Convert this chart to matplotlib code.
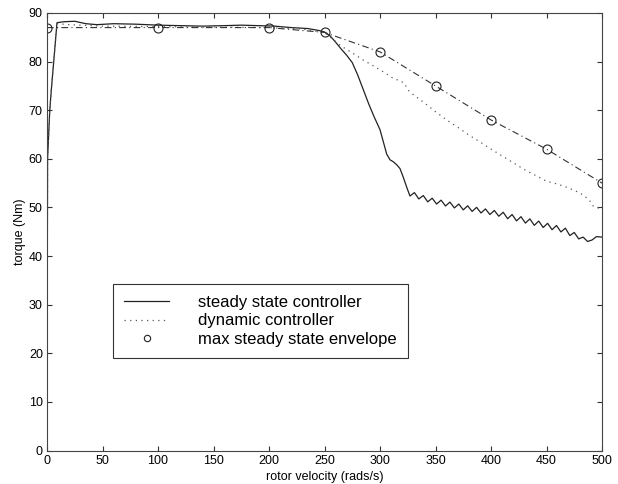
import matplotlib
matplotlib.use("Agg")
import matplotlib.pyplot as plt

plt.rcParams['font.family'] = ['Liberation Sans', 'DejaVu Sans']

# steady state controller (solid)
ss_x = [0, 0.5, 2.5, 4, 9, 15, 25, 35, 45, 60, 80, 100, 120, 140, 160, 175, 190, 205,
        220, 235, 245, 250, 255, 260, 265, 270, 275, 280, 285, 290, 295, 300, 303, 306,
        309, 312, 315, 318, 321, 324,
        327, 331, 335, 339, 343, 347, 351, 355, 359, 363, 367, 371, 375, 379, 383, 387,
        391, 395, 399, 403, 407, 411, 415, 419, 423, 427, 431, 435, 439, 443, 447, 451,
        455, 459, 463, 467, 471, 475, 479, 483, 487, 491, 495, 500]
ss_y = [8, 60, 70, 74.5, 88, 88.2, 88.3, 87.8, 87.6, 87.8, 87.7, 87.5, 87.4, 87.3, 87.4,
        87.5, 87.4, 87.3, 87.0, 86.8, 86.4, 86.1, 85.3, 84.0, 82.6, 81.3, 79.8, 77.2, 74.2,
        71.2, 68.5, 66.0, 63.5, 61.0, 59.8, 59.4, 58.8, 58.0, 56.2, 54.2,
        52.35, 53.05, 51.75, 52.45, 51.15, 51.9, 50.7, 51.5, 50.3, 51.1, 49.9, 50.7, 49.5,
        50.34, 49.18, 50.02, 48.86, 49.7, 48.54, 49.38, 48.19, 49.01, 47.68, 48.55, 47.23,
        48.1, 46.78, 47.65, 46.32, 47.2, 45.87, 46.74, 45.42, 46.29, 44.96, 45.74, 44.22,
        44.85, 43.53, 43.9, 43.0, 43.3, 44.0, 43.9]

# dynamic controller (dotted)
dyn_x = [0, 0.5, 2.5, 4, 9, 20, 50, 100, 150, 200, 230, 250, 258, 265, 275, 285, 295, 300,
         305, 310, 318, 322, 325, 330, 340, 350, 360, 370, 380, 390, 400, 410, 420, 430,
         440, 450, 460, 470, 480, 488, 492, 500]
dyn_y = [8, 60, 70, 74.5, 87.8, 87.6, 87.3, 87.2, 87.1, 87.0, 86.7, 86.0, 84.5, 83.2, 81.8,
         80.3, 79.0, 78.3, 77.6, 76.8, 76.0, 75.6, 74.2, 73.2, 71.5, 69.7, 68.0, 66.5, 64.9,
         63.5, 62.0, 60.6, 59.2, 57.8, 56.6, 55.4, 54.8, 54.0, 53.0, 51.7, 50.3, 49.6]

# max steady state envelope (circles + dash-dot)
env_x = [0, 100, 200, 250, 300, 350, 400, 450, 500]
env_y = [87, 87, 87, 86, 82, 75, 68, 62, 55]

labels = ['steady state controller', 'dynamic controller', 'max steady state envelope']
x_ticks = list(range(0, 501, 50))
y_ticks = list(range(0, 91, 10))

fig = plt.figure(figsize=(6.18, 4.84), dpi=100)
ax = fig.add_axes([47 / 618, 1 - 450.5 / 484, 555 / 618, 437.5 / 484])

ax.plot(ss_x, ss_y, '-', color='#222222', lw=0.9, label=labels[0])
ax.plot(dyn_x, dyn_y, linestyle=(0, (1, 3.5)), color='#555555', lw=0.9, label=labels[1])
ax.plot(env_x, env_y, linestyle=(0, (6, 3, 1, 3)), color='#333333', lw=0.8)
ax.plot(env_x, env_y, 'o', ls='none', ms=6.5, mfc='none', mec='#222222', mew=0.8,
        label=labels[2])

ax.set_xlim(0, 500)
ax.set_ylim(0, 90)
ax.set_xticks(x_ticks)
ax.set_yticks(y_ticks)
ax.tick_params(direction='in', length=3.5, width=0.8, top=True, right=True,
               labelsize=9, pad=3, color='#333333')
for s in ax.spines.values():
    s.set_color('#444444')
    s.set_linewidth(0.8)

ax.set_xlabel('rotor velocity (rads/s)', fontsize=9, labelpad=3)
ax.set_ylabel('torque (Nm)', fontsize=9, labelpad=2)

leg = ax.legend(loc='upper left', bbox_to_anchor=(0.119, 0.3806), fontsize=12,
                frameon=True, fancybox=False, edgecolor='#333333', framealpha=1,
                borderpad=0.68, labelspacing=0.19, handlelength=2.7, handletextpad=1.7,
                borderaxespad=0, markerscale=0.7)
leg.get_frame().set_linewidth(0.8)

fig.savefig('out.png', dpi=100)
